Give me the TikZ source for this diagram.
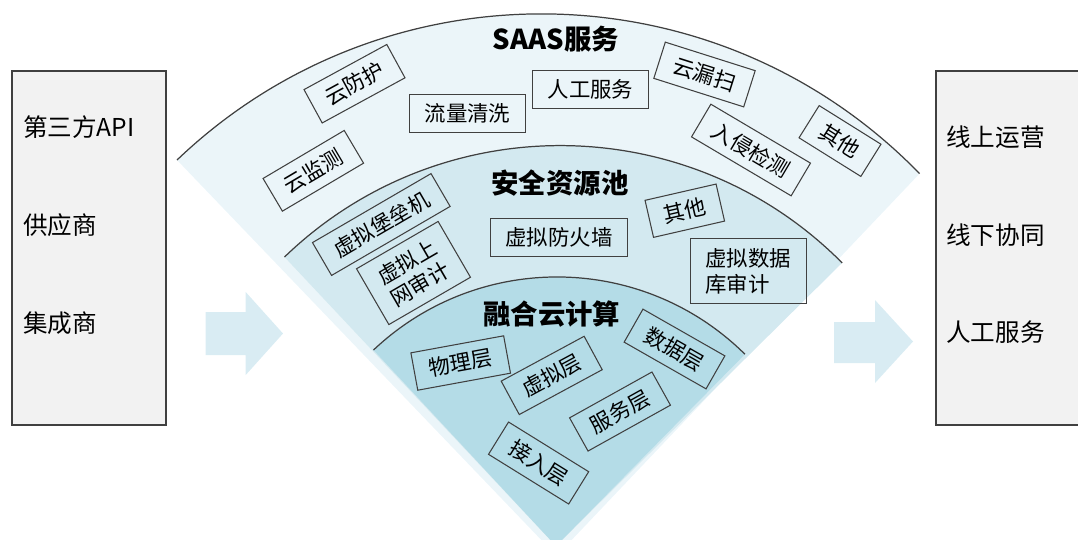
\documentclass[tikz,border=0pt]{standalone}
\usepackage{fontspec}
\setmainfont{Noto Sans CJK SC}
\usepackage{tikz}

\definecolor{colFanA}{RGB}{235, 245, 249}
\definecolor{colFanB}{RGB}{211, 233, 240}
\definecolor{colFanC}{RGB}{180, 220, 231}
\definecolor{colArrow}{RGB}{217, 236, 243}
\definecolor{colPanel}{RGB}{242, 242, 242}
\definecolor{colLine}{RGB}{64, 64, 64}

\tikzset{
    tag/.style={draw=colLine, line width=0.6pt, inner xsep=0.3cm, inner ysep=0.1cm,
        minimum height=0.76cm, font=\fontsize{12.2pt}{14.6pt}\selectfont},
    tagtwo/.style={tag, align=left, minimum height=1.29cm},
    ringtitle/.style={font=\fontsize{15.6pt}{18pt}\selectfont\bfseries},
    sidetext/.style={anchor=west, inner sep=0pt, font=\fontsize{14pt}{16pt}\selectfont},
    arcline/.style={draw=colLine, line width=0.7pt}
}

\begin{document}
\begin{tikzpicture}[x=0.02cm, y=-0.02cm]
    \useasboundingbox (0,0) rectangle (1078,539);
    \clip (0,0) rectangle (1078,539);

    % --- Kipas: tiga lapisan ---
    \fill[colFanA] (549,548) -- (177,160) arc[start angle=133.7, end angle=44.2, radius=10.552cm] -- (564,548) -- cycle;
    \fill[colFanB] (556,546) -- (284.5,257) arc[start angle=134.0, end angle=44.8, radius=7.944cm] -- cycle;
    \fill[colFanC] (556,546) -- (373.5,350) arc[start angle=133.4, end angle=45.3, radius=5.344cm] -- cycle;
    % garis busur
    \draw[arcline] (177,160) arc[start angle=133.7, end angle=44.2, radius=10.552cm];
    \draw[arcline] (284.5,257) arc[start angle=134.0, end angle=44.8, radius=7.944cm];
    \draw[arcline] (373.5,350) arc[start angle=133.4, end angle=45.3, radius=5.344cm];

    % --- Lapisan luar: SAAS ---
    \node[ringtitle] (saas) at (556,39) {SAAS服务};
    \node[tag, rotate=28.6] (yunfanghu) at (354.5,83.7) {云防护};
    \node[tag, rotate=30.6] (yunjiance) at (313.3,170.8) {云监测};
    \node[tag] (liuliang) at (467.5,113.5) {流量清洗};
    \node[tag] (rengong) at (590.5,89.5) {人工服务};
    \node[tag, rotate=-17.6] (yunlousao) at (704.5,74.5) {云漏扫};
    \node[tag, rotate=-30.6] (ruqin) at (751,150) {入侵检测};
    \node[tag, rotate=-32] (qitaA) at (840,141) {其他};

    % --- Lapisan tengah: sumber daya ---
    \node[ringtitle] (anquan) at (560,183) {安全资源池};
    \node[tag, rotate=30.2] (baolei) at (381.3,224.5) {虚拟堡垒机};
    \node[tagtwo, rotate=30.1] (shangwang) at (413.5,273) {虚拟上\\网审计};
    \node[tag] (fanghuo) at (559,237.8) {虚拟防火墙};
    \node[tag, rotate=12.9] (qitaB) at (684.8,210.7) {其他};
    \node[tagtwo] (shujuku) at (748.3,271.2) {虚拟数据\\库审计};

    % --- Lapisan dalam: komputasi ---
    \node[ringtitle] (ronghe) at (551.7,314) {融合云计算};
    \node[tag, rotate=10.4] (wuli) at (460.7,363) {物理层};
    \node[tag, rotate=28.4] (xuni) at (551.7,375.4) {虚拟层};
    \node[tag, rotate=-29.7] (shuju) at (674.5,349) {数据层};
    \node[tag, rotate=29.1] (fuwu) at (620,411.5) {服务层};
    \node[tag, rotate=-31.8] (jieru) at (538.6,463) {接入层};

    % --- Panah blok ---
    \fill[colArrow] (205.7,312) -- (245.7,312) -- (245.7,292) -- (283,333.5) -- (245.7,375) -- (245.7,355) -- (205.7,355) -- cycle;
    \fill[colArrow] (834,322) -- (875,322) -- (875,300) -- (913,341.5) -- (875,383) -- (875,363) -- (834,363) -- cycle;

    % --- Panel kiri ---
    \draw[fill=colPanel, draw=colLine, line width=0.8pt] (12,71) rectangle (166,425);
    \node[sidetext] (api) at (22.7,127) {第三方API};
    \node[sidetext] (gongying) at (22.7,225) {供应商};
    \node[sidetext] (jicheng) at (22.7,323) {集成商};

    % --- Panel kanan ---
    \draw[fill=colPanel, draw=colLine, line width=0.8pt] (936,71) rectangle (1090,425);
    \node[sidetext] (xianshang) at (946,137) {线上运营};
    \node[sidetext] (xianxia) at (946,235) {线下协同};
    \node[sidetext] (rengongB) at (946,332) {人工服务};

\end{tikzpicture}
\end{document}
